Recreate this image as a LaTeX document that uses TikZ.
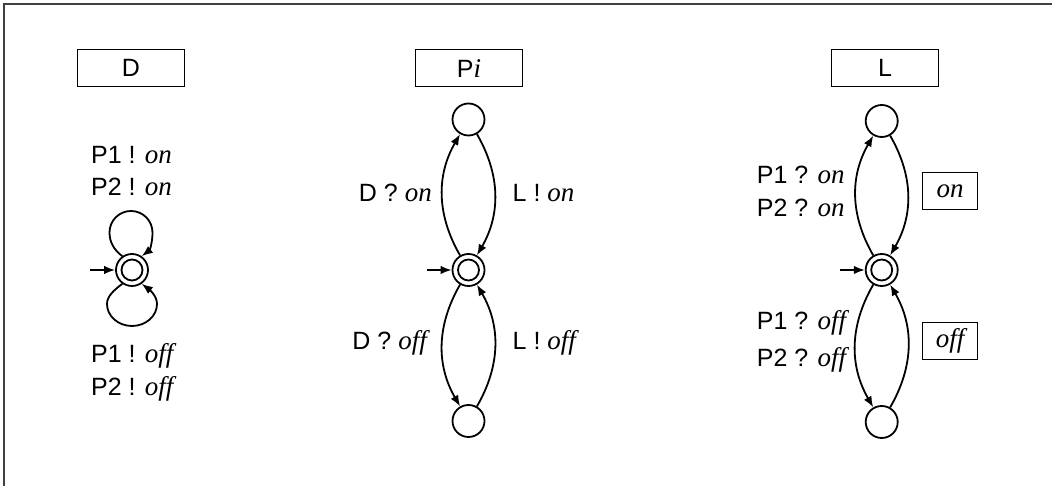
\documentclass[tikz,border=0pt]{standalone}
\usepackage{fontspec}
\setmainfont{Liberation Sans}
\newfontfamily\tmfont{Liberation Serif}
\usetikzlibrary{arrows.meta,calc}
\newcommand\itx[1]{{\tmfont\itshape\fontsize{27}{33}\selectfont #1}}
\begin{document}
\begin{tikzpicture}[x=1pt,y=1pt,
  every node/.style={font=\fontsize{25}{33}\selectfont},
  st/.style={circle, draw, line width=1.8pt, minimum size=32pt, inner sep=0pt},
  ini/.style={st, path picture={\draw[line width=1.8pt] (path picture bounding box.center) circle (10.5pt);}},
  edge/.style={line width=1.8pt, -{Latex[length=11pt,width=8.5pt]}},
  tbox/.style={draw, line width=1pt, minimum width=107pt, minimum height=37pt, inner sep=0pt},
  vbox/.style={draw, line width=1pt, minimum width=55pt, minimum height=37pt, inner sep=0pt},
  lbl/.style={inner sep=0pt}]
\useasboundingbox (0,0) rectangle (1052,486);
\draw[line width=1.6pt, black!75] (4,0) -- (4,482) -- (1052,482);

% ---- D ----
\node[tbox] (tD) at (131,418) {D};
\node[ini] (d0) at (132,216) {};
\coordinate (d0in) at (90,216);
\coordinate (dLt) at ($(d0)+(-22.5,37.5)$);
\coordinate (dTt) at ($(d0)+(-1,59)$);
\coordinate (dRt) at ($(d0)+(20.5,37.5)$);
\coordinate (dLb) at ($(d0)+(-25,-34)$);
\coordinate (dBb) at ($(d0)+(0,-56)$);
\coordinate (dRb) at ($(d0)+(25,-34)$);
\draw[edge] (d0in) -- (d0);
\draw[edge] (d0.125) .. controls +(-8,6) and +(0,-10) .. (dLt)
  .. controls +(0,11.9) and +(-11.9,0) .. (dTt)
  .. controls +(11.9,0) and +(0,11.9) .. (dRt)
  .. controls +(0,-10) and +(8,6) .. (d0.55);
\draw[edge] (d0.-125) .. controls +(-8,-6) and +(0,8) .. (dLb)
  .. controls +(0,-12.1) and +(-13.8,0) .. (dBb)
  .. controls +(13.8,0) and +(0,-12.1) .. (dRb)
  .. controls +(0,8) and +(8,-6) .. (d0.-55);
\node[lbl, anchor=base west] (dl1) at (91,322.7) {P1 ! \itx{on}};
\node[lbl, anchor=base west] (dl2) at (91,290) {P2 ! \itx{on}};
\node[lbl, anchor=base west] (dl3) at (91,123.3) {P1 ! \itx{off}};
\node[lbl, anchor=base west] (dl4) at (91,90) {P2 ! \itx{off}};

% ---- Pi ----
\node[tbox] (tP) at (469,417.5) {P\itx{i}};
\node[st] (p1) at (468.5,366.5) {};
\node[ini] (p0) at (468.5,216) {};
\node[st] (p2) at (468.5,65) {};
\coordinate (p0in) at (426.5,216);
\draw[edge] (p0in) -- (p0);
\draw[edge] (p0) to[bend left=30] (p1);
\draw[edge] (p1) to[bend left=30] (p0);
\draw[edge] (p0) to[bend right=30] (p2);
\draw[edge] (p2) to[bend right=30] (p0);
\node[lbl, anchor=base east] (pl1) at (432,284.3) {D ? \itx{on}};
\node[lbl, anchor=base west] (pl2) at (512.5,284.3) {L ! \itx{on}};
\node[lbl, anchor=base east] (pl3) at (427,136) {D ? \itx{off}};
\node[lbl, anchor=base west] (pl4) at (512.5,136) {L ! \itx{off}};

% ---- L ----
\node[tbox] (tL) at (885,418) {L};
\node[st] (l1) at (881.7,365) {};
\node[ini] (l0) at (881.7,216) {};
\node[st] (l2) at (881.7,64) {};
\coordinate (l0in) at (840,216);
\draw[edge] (l0in) -- (l0);
\draw[edge] (l0) to[bend left=30] (l1);
\draw[edge] (l1) to[bend left=30] (l0);
\draw[edge] (l0) to[bend right=30] (l2);
\draw[edge] (l2) to[bend right=30] (l0);
\node[lbl, anchor=base west] (ll1) at (756.7,302.7) {P1 ? \itx{on}};
\node[lbl, anchor=base west] (ll2) at (756.7,269.3) {P2 ? \itx{on}};
\node[lbl, anchor=base west] (ll3) at (756.7,156) {P1 ? \itx{off}};
\node[lbl, anchor=base west] (ll4) at (756.7,119.3) {P2 ? \itx{off}};
\node[vbox] (von) at (950,295) {\itx{on}};
\node[vbox] (voff) at (950,145) {\itx{off}};
\end{tikzpicture}
\end{document}
